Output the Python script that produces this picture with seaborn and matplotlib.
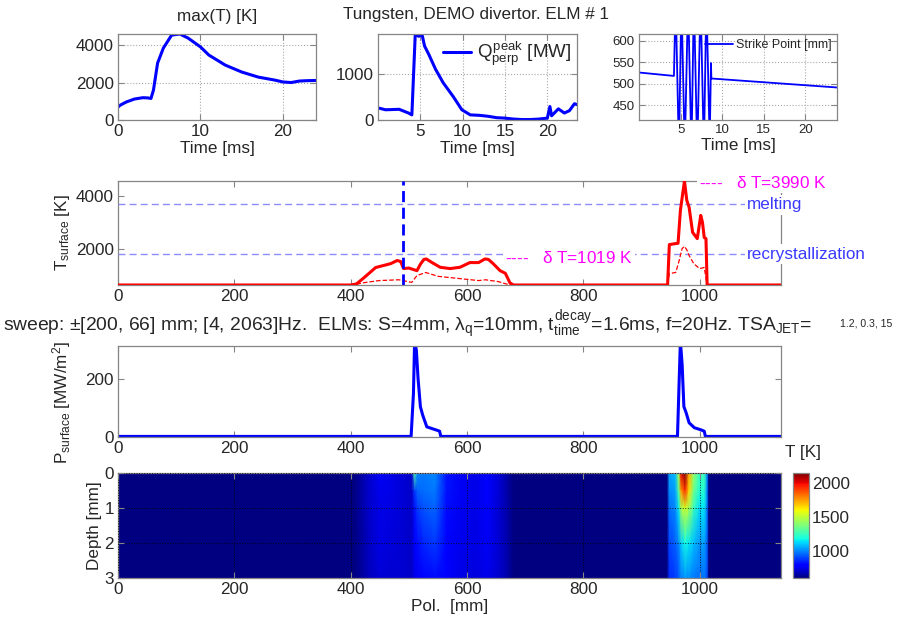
import numpy as np
import matplotlib
matplotlib.use("Agg")
import matplotlib.pyplot as plt
import seaborn as sns

# ---------------- data ----------------
t_maxT = [0, 0.3, 1, 2, 3, 3.6, 4.0, 4.3, 4.8, 5.5, 6.5, 7.5, 8.5, 10, 11, 13, 15, 17, 19, 20, 21, 22, 23, 24]
maxT = [690, 800, 960, 1120, 1190, 1180, 1150, 1600, 3040, 3840, 4530, 4590, 4370, 3900, 3470,
        2930, 2560, 2290, 2130, 2030, 2000, 2080, 2100, 2110]

t_Q = [0, 0.9, 2.5, 3.6, 4.0, 4.4, 4.8, 5.2, 5.5, 6.0, 6.8, 7.7, 8.9, 9.9, 10.9, 12, 13, 14, 15,
       16, 17, 18, 19, 20, 20.3, 20.5, 21.3, 22, 22.6, 23.2, 23.5]
Q_peak = [260, 220, 230, 150, 110, 1850, 1800, 1840, 1590, 1410, 1090, 800, 500, 220, 110, 100,
          80, 50, 40, 20, 10, 10, 20, 40, 290, 90, 240, 150, 200, 350, 330]

t_sp = [0, 4.2, 4.4, 4.8, 5.1, 5.5, 5.9, 6.3, 6.6, 7.0, 7.4, 7.8, 8.1, 8.5, 8.65, 8.7, 23.8]
strike_pt = [526, 518, 700, 340, 700, 340, 700, 340, 700, 340, 700, 340, 700, 360, 548, 512, 491]

pos_Tmax = [0, 400, 410, 423, 443, 469, 480, 486, 491, 500, 514, 520, 526, 530, 540, 554, 571,
            588, 605, 620, 631, 637, 645, 657, 666, 674, 680, 945, 948, 959, 963, 967, 974, 978,
            982, 988, 996, 1002, 1005, 1008, 1011, 1013, 1140]
T_max = [600, 600, 640, 880, 1270, 1420, 1540, 1500, 1230, 1250, 1150, 1400, 1580, 1600, 1460,
         1280, 1230, 1280, 1460, 1460, 1600, 1580, 1420, 1150, 1050, 680, 600, 600, 2150, 2190,
         2200, 3460, 4590, 3850, 3580, 2620, 2380, 3270, 3000, 2420, 2380, 600, 600]

pos_Tnow = [0, 405, 420, 449, 483, 492, 505, 514, 529, 551, 586, 620, 632, 654, 666, 675, 945,
            948, 959, 964, 970, 974, 978, 982, 990, 1000, 1008, 1013, 1140]
T_now = [600, 600, 680, 770, 800, 760, 700, 960, 1080, 930, 850, 770, 800, 730, 650, 600, 600,
         1040, 1080, 1460, 2000, 2080, 1950, 1730, 1420, 1230, 1270, 600, 600]

pos_P = [0, 504, 508, 510, 513, 516, 520, 524, 531, 540, 549, 553, 555, 962, 965, 967, 970,
         973, 977, 982, 991, 1002, 1008, 1010, 1140]
P_surf = [2, 2, 150, 330, 300, 200, 104, 75, 35, 29, 23, 20, 2, 2, 200, 330, 250, 105, 83, 49,
          32, 25, 20, 2, 2]

T_melting = 3690
T_recryst = 1800
sweep_now = 490

hm_pos = [0, 405, 415, 430, 450, 470, 490, 505, 510, 515, 525, 545, 565, 590, 615, 635, 655,
          670, 680, 944, 948, 958, 964, 968, 975, 982, 990, 1000, 1008, 1013, 1016, 1140]
hm_depth = [0, 0.5, 1, 2, 3]
hm_d0 = [600, 600, 640, 700, 760, 740, 720, 700, 1300, 1000, 980, 1000, 820, 760, 740, 780, 720,
         650, 600, 600, 1040, 1080, 1460, 2000, 2150, 1730, 1420, 1230, 1270, 1000, 600, 600]
hm_d05 = [600, 600, 640, 700, 750, 740, 720, 700, 880, 950, 960, 980, 820, 760, 740, 775, 720,
          650, 600, 600, 1000, 1040, 1300, 1750, 1950, 1650, 1350, 1200, 1220, 1000, 600, 600]
hm_d1 = [600, 600, 640, 700, 745, 735, 720, 700, 820, 880, 920, 950, 810, 755, 740, 770, 715,
         655, 600, 600, 960, 1000, 1150, 1450, 1550, 1450, 1250, 1130, 1150, 980, 600, 600]
hm_d2 = [600, 600, 635, 690, 735, 725, 715, 700, 770, 810, 850, 880, 790, 750, 735, 760, 710,
         660, 600, 600, 900, 940, 1000, 1100, 1180, 1150, 1080, 1020, 1040, 950, 600, 600]
hm_d3 = [600, 600, 630, 680, 720, 715, 710, 700, 740, 760, 790, 810, 770, 740, 730, 750, 705,
         660, 600, 600, 860, 880, 920, 980, 1020, 1010, 980, 960, 970, 920, 600, 600]

# ---------------- style ----------------
sns.set_theme(style="white")
GRAY = "#858585"
plt.rcParams.update({
    "font.family": ["Liberation Sans", "DejaVu Sans"],
    "font.size": 12.3,
    "mathtext.fontset": "custom",
    "mathtext.rm": "Liberation Sans",
    "mathtext.it": "Liberation Sans",
    "mathtext.bf": "Liberation Sans:bold",
    "mathtext.sf": "Liberation Sans",
    "axes.edgecolor": GRAY,
    "axes.linewidth": 0.9,
    "axes.labelcolor": "#262626",
    "axes.labelsize": 12.3,
    "text.color": "#262626",
    "xtick.direction": "in", "ytick.direction": "in",
    "xtick.top": True, "ytick.right": True,
    "xtick.bottom": True, "ytick.left": True,
    "xtick.color": GRAY, "ytick.color": GRAY,
    "xtick.labelcolor": "#262626", "ytick.labelcolor": "#262626",
    "xtick.labelsize": 12.3, "ytick.labelsize": 12.3,
    "xtick.major.size": 4, "ytick.major.size": 4,
    "xtick.major.width": 0.8, "ytick.major.width": 0.8,
    "xtick.major.pad": 3, "ytick.major.pad": 3,
    "axes.titlesize": 12.3,
})

W, H = 904, 623
fig = plt.figure(figsize=(W / 100, H / 100), dpi=100)


def box(l, t, r, b):
    return [l / W, 1 - b / H, (r - l) / W, (b - t) / H]


def fx(px):
    return px / W


def fy(py):
    return 1 - py / H


grid_kw = dict(color="#a8a8a8", linestyle=":", linewidth=0.8)

# ---- top-left: max(T)
ax1 = fig.add_axes(box(118, 34, 316, 120))
sns.lineplot(x=t_maxT, y=maxT, ax=ax1, color="#0000ff", lw=2.2, estimator=None, sort=False)
ax1.set_xlim(0, 24)
ax1.set_ylim(0, 4590)
ax1.set_xticks([0, 10, 20])
ax1.set_yticks([0, 2000, 4000])
ax1.grid(True, **grid_kw)
ax1.set_title("max(T) [K]", pad=9)
ax1.set_xlabel("Time [ms]", labelpad=1)

# ---- top-middle: Q peak
ax2 = fig.add_axes(box(378, 34, 577, 120))
sns.lineplot(x=t_Q, y=Q_peak, ax=ax2, color="#0000ff", lw=2.2, estimator=None, sort=False,
             label=r"$Q^{peak}_{perp}$ [MW]")
ax2.set_xlim(0, 23.5)
ax2.set_ylim(0, 1850)
ax2.set_xticks([5, 10, 15, 20])
ax2.set_yticks([0, 1000])
ax2.grid(True, **grid_kw)
ax2.set_xlabel("Time [ms]", labelpad=1)
ax2.legend(loc="upper right", frameon=False, fontsize=13.5, handlelength=1.5,
           handletextpad=0.3, borderaxespad=0.1, borderpad=0.2)

# ---- top-right: strike point
ax3 = fig.add_axes(box(639, 34, 837, 120))
sns.lineplot(x=t_sp, y=strike_pt, ax=ax3, color="#0000ff", lw=1.3, estimator=None, sort=False,
             label="Strike Point [mm]")
ax3.set_xlim(0, 23.8)
ax3.set_ylim(415, 616)
ax3.set_xticks([5, 10, 15, 20])
ax3.set_yticks([450, 500, 550, 600])
ax3.tick_params(labelsize=9.5)
ax3.grid(True, **grid_kw)
ax3.set_xlabel("Time [ms]", labelpad=1)
ax3.legend(loc="upper right", frameon=False, fontsize=9, handlelength=2.2,
           handletextpad=0.3, borderaxespad=0.2, borderpad=0.2)

fig.text(fx(476), fy(14), "Tungsten, DEMO divertor. ELM # 1", ha="center", va="center",
         fontsize=12.3)

# ---- T_surface
ax4 = fig.add_axes(box(118, 181, 781, 285))
ax4.axhline(T_melting, color="#8c8cff", lw=1.0, ls=(0, (5, 3)), zorder=1)
ax4.axhline(T_recryst, color="#8c8cff", lw=1.0, ls=(0, (5, 3)), zorder=1)
sns.lineplot(x=pos_Tnow, y=T_now, ax=ax4, color="#ff0000", lw=0.9, ls="--", estimator=None,
             sort=False)
sns.lineplot(x=pos_Tmax, y=T_max, ax=ax4, color="#ff0000", lw=2.2, estimator=None, sort=False)
ax4.axvline(sweep_now, color="#0000ff", lw=2.0, ls=(0, (4, 2)), zorder=3)
ax4.set_xlim(0, 1140)
ax4.set_ylim(600, 4590)
ax4.set_xticks([0, 200, 400, 600, 800, 1000])
ax4.set_yticks([2000, 4000])
for sp in ax4.spines.values():
    sp.set_zorder(0.5)
ax4.set_ylabel(r"$T_{surface}$ [K]")
ax4.yaxis.set_label_coords(-0.07, 0.5)

bb = dict(facecolor="white", edgecolor="none", pad=1.5)
fig.text(fx(699), fy(183), "----   " + r"$\delta$" + " T=3990 K", color="#ff00ff", ha="left",
         va="center", fontsize=12.3, bbox=bb)
fig.text(fx(505), fy(258), "----   " + r"$\delta$" + " T=1019 K", color="#ff00ff", ha="left",
         va="center", fontsize=12.3, bbox=bb)
fig.text(fx(747), fy(205), "melting", color="#3a3aff", ha="left", va="center", fontsize=12.3,
         bbox=bb)
fig.text(fx(747), fy(254), "recrystallization", color="#3a3aff", ha="left", va="center",
         fontsize=12.3, bbox=bb)

# ---- sweep description
fig.text(fx(3), fy(325),
         r"sweep: $\pm$[200, 66] mm; [4, 2063]Hz.  ELMs: S=4mm, $\lambda_q$=10mm, "
         r"$t^{decay}_{time}$=1.6ms, f=20Hz. TSA$_{JET}$=",
         ha="left", va="center", fontsize=13.9)
fig.text(fx(840), fy(323), "1.2, 0.3, 15", ha="left", va="center", fontsize=7.6)

# ---- P_surface
ax5 = fig.add_axes(box(118, 346, 781, 437))
sns.lineplot(x=pos_P, y=P_surf, ax=ax5, color="#0000ff", lw=2.2, estimator=None, sort=False)
ax5.set_xlim(0, 1140)
ax5.set_ylim(0, 314)
ax5.set_xticks([0, 200, 400, 600, 800, 1000])
ax5.set_yticks([0, 200])
ax5.set_ylabel(r"$P_{surface}$ [MW/m$^2$]")
ax5.yaxis.set_label_coords(-0.068, 0.38)
fig.text(fx(785), fy(452), "T [K]", ha="left", va="center", fontsize=12.3)

# ---- heatmap depth x pol
ax6 = fig.add_axes(box(118, 473, 781, 578))
Z = np.array([hm_d0, hm_d05, hm_d1, hm_d2, hm_d3], dtype=float)
X, Y = np.meshgrid(np.array(hm_pos, float), np.array(hm_depth, float))
mesh = ax6.pcolormesh(X, Y, Z, cmap="jet", vmin=600, vmax=2150, shading="gouraud",
                      rasterized=True)
ax6.set_xlim(0, 1140)
ax6.set_ylim(3, 0)
ax6.set_xticks([0, 200, 400, 600, 800, 1000])
ax6.set_yticks([0, 1, 2, 3])
ax6.grid(True, color="black", linestyle=":", linewidth=0.7, alpha=0.8)
ax6.set_axisbelow(False)
ax6.set_xlabel("Pol.  [mm]", labelpad=1)
ax6.set_ylabel("Depth [mm]", labelpad=2)

cax = fig.add_axes(box(793, 473, 809, 578))
cb = fig.colorbar(mesh, cax=cax)
cb.set_ticks([1000, 1500, 2000])
cb.outline.set_edgecolor(GRAY)
cb.outline.set_linewidth(0.9)
cax.tick_params(direction="in", length=3, color=GRAY, labelsize=12.3, pad=2)

fig.savefig("out.png", dpi=100)
